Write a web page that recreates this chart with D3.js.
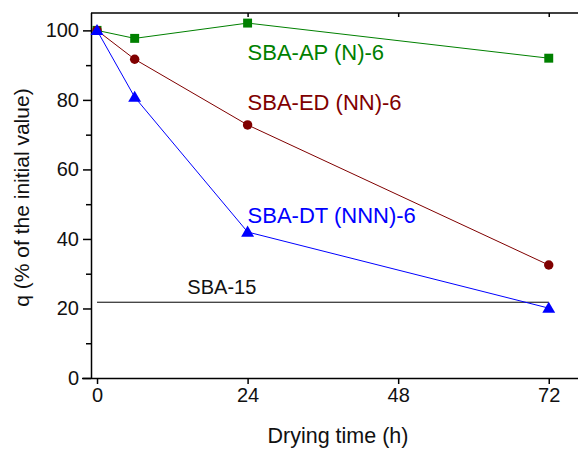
<!DOCTYPE html>
<html><head><meta charset="utf-8">
<script src="https://cdn.jsdelivr.net/npm/d3@7"></script>
<style>body{margin:0;background:#fff}svg{display:block;font-family:"Liberation Sans",Arial,sans-serif}</style>
</head><body><svg id="c" width="578" height="450"></svg>
<script>
const times = [0, 6, 24, 72];
const apN = [100, 97.7, 102.1, 92.0];
const edNN = [100, 91.7, 72.8, 32.5];
const dtNNN = [100, 80.8, 42.0, 20.1];
const sba15 = 21.8;
const sba15Range = [0, 72];
const xTicks = [0, 24, 48, 72];
const yTicks = [0, 20, 40, 60, 80, 100];
const yMinor = [10, 30, 50, 70, 90];
const seriesNames = ["SBA-AP (N)-6", "SBA-ED (NN)-6", "SBA-DT (NNN)-6"];
const seriesColors = ["#008000", "#800000", "#0000ff"];
const labelPos = [[24, 91.5], [24, 77], [24, 44.5]]; // data-space anchor for labels

const svg = d3.select("#c");
const L = 91, T = 13, R = 582, B = 378;
const x = d3.scaleLinear().domain([-0.96, 77.3]).range([L, R]);
const y = d3.scaleLinear().domain([0, 105]).range([B, T]);

svg.append("line").attr("x1", L).attr("x2", R).attr("y1", T).attr("y2", T).attr("stroke", "#000").attr("stroke-width", 1.5);

const gx = svg.append("g").attr("transform", `translate(0,${B})`)
  .call(d3.axisBottom(x).tickValues(xTicks).tickSize(6).tickPadding(4).tickSizeOuter(0));
const gxTop = svg.append("g").attr("transform", `translate(0,${T})`)
  .call(d3.axisBottom(x).tickValues(xTicks.slice(1)).tickSize(4).tickFormat("").tickSizeOuter(0));
gxTop.select(".domain").remove();
const gy = svg.append("g").attr("transform", `translate(${L},0)`)
  .call(d3.axisLeft(y).tickValues(yTicks).tickSize(8).tickPadding(4).tickSizeOuter(0));
const gyMin = svg.append("g").attr("transform", `translate(${L},0)`)
  .call(d3.axisLeft(y).tickValues(yMinor).tickSize(5).tickFormat("").tickSizeOuter(0));
gyMin.select(".domain").remove();
[gx, gxTop, gy, gyMin].forEach(g => {
  g.attr("font-size", 20).attr("font-family", "Liberation Sans, Arial, sans-serif");
  g.selectAll("path,line").attr("stroke", "#000").attr("stroke-width", 1.5);
  g.selectAll("text").attr("fill", "#111");
});
gx.select(".domain").attr("d", `M${L - 9},0.5H${R}`);
gy.select(".domain").attr("d", `M0.5,${T}V${B}`);

svg.append("line").attr("x1", x(sba15Range[0])).attr("x2", x(sba15Range[1]))
  .attr("y1", y(sba15)).attr("y2", y(sba15)).attr("stroke", "#000").attr("stroke-width", 1);
svg.append("text").attr("x", x(14.4)).attr("y", y(sba15) - 8).attr("font-size", 20).attr("fill", "#111").text("SBA-15");

const data = [apN, edNN, dtNNN];
const line = d3.line().x((d, i) => x(times[i])).y(d => y(d));
const shapes = [d3.symbolSquare, d3.symbolCircle, d3.symbolTriangle];
const sizes = [80, 70, 72];
data.forEach((vals, k) => {
  svg.append("path").attr("d", line(vals)).attr("fill", "none").attr("stroke", seriesColors[k]).attr("stroke-width", 1);
});
data.forEach((vals, k) => {
  svg.append("g").selectAll("path").data(vals).join("path")
    .attr("transform", (d, i) => `translate(${x(times[i])},${y(d) + (k === 2 ? 1 : 0)})`)
    .attr("d", d3.symbol().type(shapes[k]).size(sizes[k]))
    .attr("fill", seriesColors[k]);
  svg.append("text").attr("x", x(labelPos[k][0])).attr("y", y(labelPos[k][1]))
    .attr("font-size", 22).attr("fill", seriesColors[k]).text(seriesNames[k]);
});

svg.append("text").attr("x", 338).attr("y", 443).attr("text-anchor", "middle").attr("font-size", 21.5).attr("fill", "#111").text("Drying time (h)");
svg.append("text").attr("transform", `translate(29,${(T + B) / 2 + 2}) rotate(-90)`).attr("text-anchor", "middle")
  .attr("font-size", 21).attr("fill", "#111").text("q (% of the initial value)");
</script></body></html>
